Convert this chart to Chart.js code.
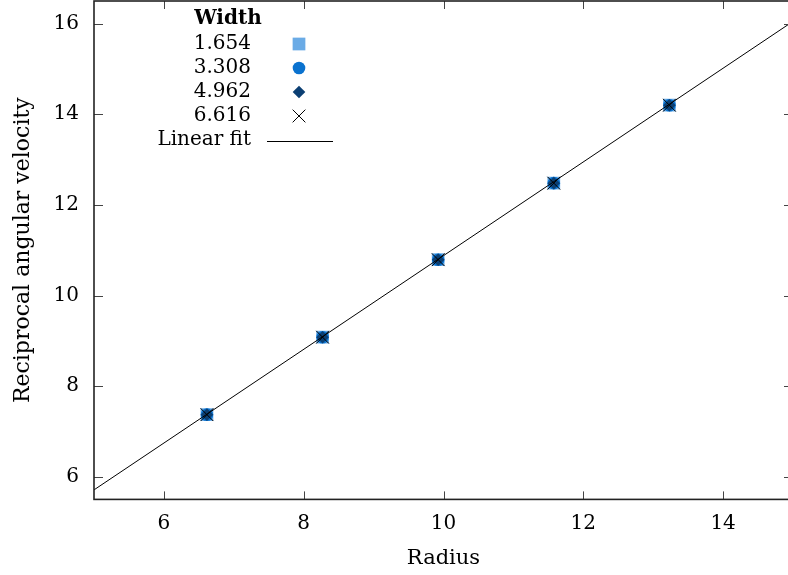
<!DOCTYPE html>
<html>
<head>
<meta charset="utf-8">
<script src="https://cdn.jsdelivr.net/npm/chart.js@4.4.1/dist/chart.umd.min.js"></script>
<style>
  html, body { margin: 0; padding: 0; background: #fff; }
  /* the original figure is cut a few pixels short on the right */
  #wrap { width: 788px; height: 575px; overflow: hidden; }
</style>
</head>
<body>
<div id="wrap"><canvas id="canvas" width="793" height="575"></canvas></div>
<script>
const WIDTHS = ["1.654", "3.308", "4.962", "6.616"];
const RADIUS = [6.616, 8.27, 9.924, 11.578, 13.232];
const RECIP_W1 = [7.37, 9.08, 10.79, 12.48, 14.20];
const RECIP_W2 = [7.37, 9.08, 10.79, 12.48, 14.20];
const RECIP_W3 = [7.37, 9.08, 10.79, 12.48, 14.20];
const RECIP_W4 = [7.37, 9.08, 10.79, 12.48, 14.20];
const FIT_X = [5, 15];
const FIT_Y = [5.71, 16.05];
const X_TICKS = [6, 8, 10, 12, 14];
const Y_TICKS = [6, 8, 10, 12, 14, 16];

const FONT = "'DejaVu Serif', serif";
const STYLES = [
    { shape: "rect", color: "#6aabe6", radius: 9 },
    { shape: "circle", color: "#0a72cf", radius: 6.3 },
    { shape: "rectRot", color: "#0b3f73", radius: 6.3 },
    { shape: "crossRot", color: "#000000", radius: 9 }
];

function pts(xs, ys) {
    return xs.map((x, i) => ({ x: x, y: ys[i] }));
}

function drawMarker(ctx, s, x, y) {
    const r = s.radius;
    ctx.save();
    ctx.fillStyle = s.color;
    ctx.strokeStyle = s.color;
    ctx.lineWidth = 1;
    ctx.beginPath();
    if (s.shape === "rect") {
        const h = r * Math.SQRT1_2;
        ctx.fillRect(x - h, y - h, 2 * h, 2 * h);
    } else if (s.shape === "circle") {
        ctx.arc(x, y, r, 0, Math.PI * 2);
        ctx.fill();
    } else if (s.shape === "rectRot") {
        ctx.moveTo(x - r, y); ctx.lineTo(x, y - r); ctx.lineTo(x + r, y); ctx.lineTo(x, y + r);
        ctx.closePath();
        ctx.fill();
    } else {
        const h = r * Math.SQRT1_2;
        ctx.moveTo(x - h, y - h); ctx.lineTo(x + h, y + h);
        ctx.moveTo(x + h, y - h); ctx.lineTo(x - h, y + h);
        ctx.stroke();
    }
    ctx.restore();
}

const frame = {
    id: "frame",
    afterDatasetsDraw(chart) {
        const ctx = chart.ctx;
        const a = chart.chartArea;
        const xs = chart.scales.x, ys = chart.scales.y;
        ctx.save();
        ctx.strokeStyle = "#444";
        ctx.lineWidth = 1;
        ctx.beginPath();
        X_TICKS.forEach(v => {
            const px = Math.round(xs.getPixelForValue(v)) + 0.5;
            ctx.moveTo(px, a.bottom); ctx.lineTo(px, a.bottom - 8);
            ctx.moveTo(px, a.top); ctx.lineTo(px, a.top + 8);
        });
        Y_TICKS.forEach(v => {
            const py = Math.round(ys.getPixelForValue(v)) + 0.5;
            ctx.moveTo(a.left, py); ctx.lineTo(a.left + 9, py);
            ctx.moveTo(a.right, py); ctx.lineTo(a.right - 9, py);
        });
        ctx.stroke();
        ctx.strokeStyle = "#222";
        ctx.lineWidth = 1.6;
        ctx.strokeRect(a.left, a.top, a.right - a.left, a.bottom - a.top);

        // legend
        ctx.fillStyle = "#000";
        ctx.textBaseline = "middle";
        ctx.font = "bold 20px " + FONT;
        ctx.textAlign = "center";
        ctx.fillText("Width", 228, 19);
        ctx.font = "20px " + FONT;
        ctx.textAlign = "right";
        WIDTHS.forEach((w, i) => {
            const y = 44 + i * 24;
            ctx.fillText(w, 251, y);
            drawMarker(ctx, STYLES[i], 299, y);
        });
        ctx.fillText("Linear fit", 251, 140);
        ctx.strokeStyle = "#000";
        ctx.lineWidth = 1;
        ctx.beginPath();
        ctx.moveTo(267, 141.5); ctx.lineTo(333, 141.5);
        ctx.stroke();
        ctx.restore();
    }
};

const series = [RECIP_W1, RECIP_W2, RECIP_W3, RECIP_W4];
const datasets = series.map((ys, i) => ({
    label: WIDTHS[i],
    data: pts(RADIUS, ys),
    showLine: false,
    pointStyle: STYLES[i].shape,
    pointRadius: STYLES[i].radius,
    pointHoverRadius: STYLES[i].radius,
    backgroundColor: STYLES[i].color,
    borderColor: STYLES[i].color,
    borderWidth: STYLES[i].shape === "crossRot" ? 1 : 0,
    order: 4 - i
}));
datasets.push({
    label: "Linear fit",
    data: pts(FIT_X, FIT_Y),
    showLine: true,
    borderColor: "#000",
    borderWidth: 1,
    pointRadius: 0,
    order: 0
});

let ctx = document.getElementById("canvas").getContext("2d");
let myChart = new Chart(ctx, {
    type: "scatter",
    data: { datasets: datasets },
    options: {
        responsive: false,
        animation: false,
        events: [],
        layout: { autoPadding: false, padding: { top: 1, right: 0, left: 0, bottom: 0 } },
        plugins: { legend: { display: false }, tooltip: { enabled: false } },
        scales: {
            x: {
                type: "linear",
                min: 5,
                max: 15,
                afterBuildTicks: s => { s.ticks = X_TICKS.map(v => ({ value: v })); },
                afterFit: s => { s.height = 75.6; s.paddingLeft = 0; s.paddingRight = 0; },
                grid: { display: false, drawTicks: false },
                border: { display: false },
                ticks: { color: "#000", padding: 12, font: { family: FONT, size: 20 } },
                title: { display: true, text: "Radius", color: "#000", padding: { top: 0, bottom: 4 }, font: { family: FONT, size: 21 } }
            },
            y: {
                type: "linear",
                min: 5.5,
                max: 16.5,
                afterBuildTicks: s => { s.ticks = Y_TICKS.map(v => ({ value: v })); },
                afterFit: s => { s.width = 94; s.paddingTop = 0; s.paddingBottom = 0; },
                grid: { display: false, drawTicks: false },
                border: { display: false },
                ticks: { color: "#000", padding: 15, font: { family: FONT, size: 20 } },
                title: { display: true, text: "Reciprocal angular velocity", color: "#000", padding: { top: 10, bottom: 0 }, font: { family: FONT, size: 22 } }
            }
        }
    },
    plugins: [frame]
});
</script>
</body>
</html>
